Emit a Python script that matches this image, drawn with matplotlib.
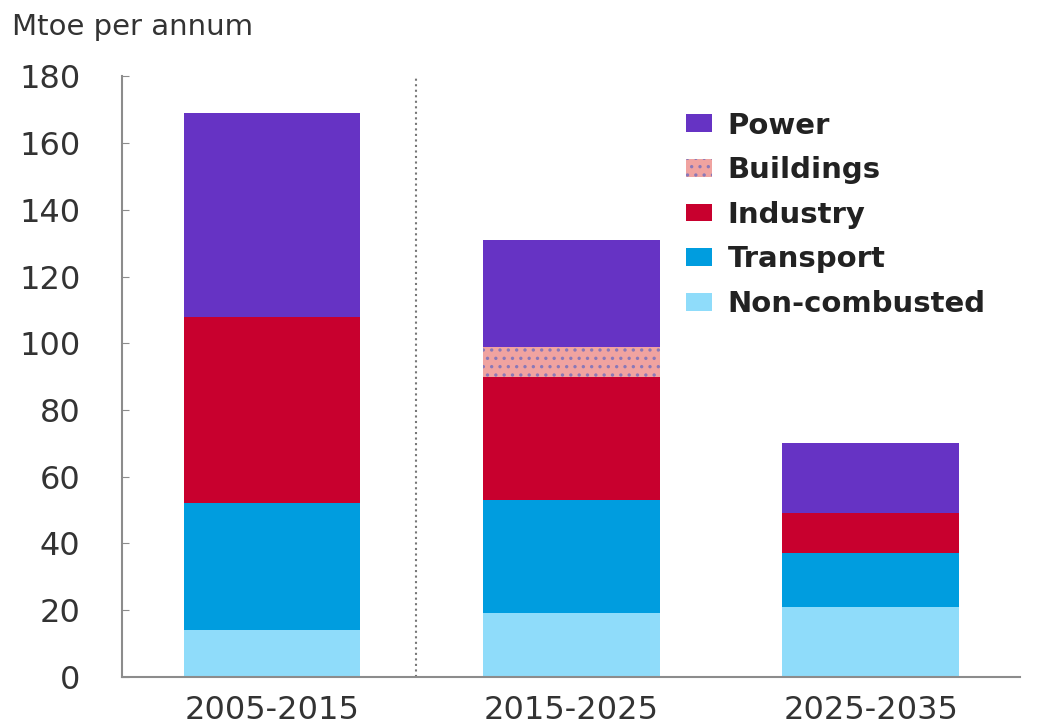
import matplotlib.pyplot as plt
import numpy as np

# Data (Mtoe per annum)
periods = ['2005-2015', '2015-2025', '2025-2035']
non_combusted = [14, 19, 21]
transport = [38, 34, 16]
industry = [56, 37, 12]
buildings = [0, 9, 0]
power = [61, 32, 21]

series = [
    ('Non-combusted', non_combusted, '#8fdcfa', None),
    ('Transport', transport, '#009ddf', None),
    ('Industry', industry, '#c8002e', None),
    ('Buildings', buildings, '#f0a3a0', '..'),
    ('Power', power, '#6633c4', None),
]
yticks = [0, 20, 40, 60, 80, 100, 120, 140, 160, 180]

plt.rcParams['hatch.color'] = '#8a78b8'
plt.rcParams['hatch.linewidth'] = 1.2

fig = plt.figure(figsize=(10.53, 7.27), dpi=100)
ax = fig.add_axes([0.116, 0.069, 0.853, 0.826])

x = np.arange(len(periods))
bottom = np.zeros(len(periods))
handles = {}
for name, vals, color, hatch in series:
    vals = np.array(vals, dtype=float)
    bars = ax.bar(x, vals, width=0.59, bottom=bottom, color=color,
                  hatch=hatch, linewidth=0, label=name)
    handles[name] = bars
    bottom += vals

# Dotted divider between historical and projected periods
ax.axvline(0.48, color='#777777', linestyle=':', linewidth=1.5)

ax.set_xlim(-0.5, 2.5)
ax.set_ylim(0, 180)
ax.set_yticks(yticks)
ax.set_xticks(x)
ax.set_xticklabels(periods)

for side in ['top', 'right']:
    ax.spines[side].set_visible(False)
for side in ['left', 'bottom']:
    ax.spines[side].set_color('#8c8c8c')
    ax.spines[side].set_linewidth(1.5)

ax.tick_params(axis='y', direction='in', length=5, color='#8c8c8c',
               labelsize=23, labelcolor='#333333', pad=30)
ax.tick_params(axis='x', length=0, labelsize=23, labelcolor='#333333', pad=13)

fig.text(0.011, 0.963, 'Mtoe per annum', fontsize=21, color='#333333',
         ha='left', va='center')

order = ['Power', 'Buildings', 'Industry', 'Transport', 'Non-combusted']
leg = ax.legend([handles[n] for n in order], order, loc='upper left',
                bbox_to_anchor=(0.598, 0.985), frameon=False,
                handlelength=0.9, handleheight=0.55, handletextpad=0.55,
                labelspacing=0.57, prop={'size': 21, 'weight': 'bold'})
for t in leg.get_texts():
    t.set_color('#222222')

fig.savefig('out.png', dpi=100)
plt.close(fig)
